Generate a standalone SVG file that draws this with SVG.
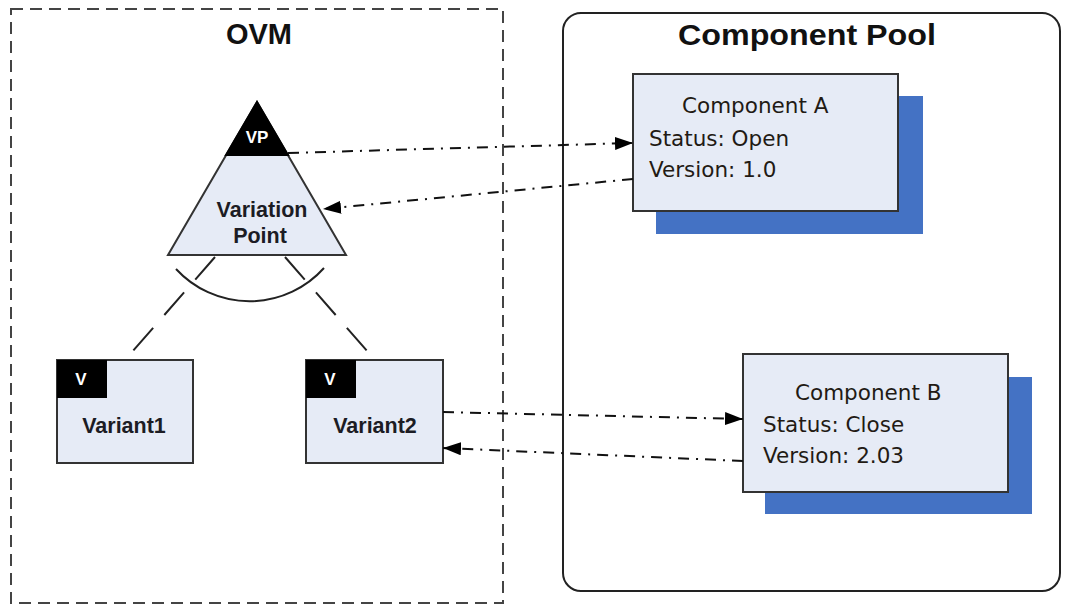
<svg xmlns="http://www.w3.org/2000/svg" width="1067" height="608" viewBox="0 0 1067 608">
  <style>
    .title { font-family: "Liberation Sans", Arial, sans-serif; font-weight: bold; font-size: 29px; fill: #111; text-anchor: middle; }
    .bold { font-family: "Liberation Sans", Arial, sans-serif; font-weight: bold; font-size: 21.5px; fill: #1c1c24; text-anchor: middle; }
    .tag { font-family: "Liberation Sans", Arial, sans-serif; font-weight: bold; font-size: 17px; fill: #fff; text-anchor: middle; }
    .comp { font-family: "DejaVu Sans", Verdana, sans-serif; font-size: 21.5px; fill: #221a14; }
    .box { fill: #e6ebf6; stroke: #333; stroke-width: 2; }
    .shadow { fill: #4472c4; }
    .link { fill: none; stroke: #111; stroke-width: 2; stroke-dasharray: 11 7 2 7; }
    .branch { fill: none; stroke: #222; stroke-width: 2; stroke-dasharray: 30 17; }
  </style>
  <defs>
    <marker id="arrow" markerUnits="userSpaceOnUse" markerWidth="18" markerHeight="13" refX="18" refY="6.5" orient="auto">
      <path d="M0,0 L18,6.5 L0,13 Z" fill="#000"/>
    </marker>
  </defs>

  <rect width="1067" height="608" fill="#fff"/>

  <!-- OVM container -->
  <g id="ovm">
    <rect x="11" y="9" width="492" height="594" fill="none" stroke="#444" stroke-width="2" stroke-dasharray="12 7"/>
    <text class="title" x="259" y="44">OVM</text>
  </g>

  <!-- Component pool container -->
  <g id="component-pool">
    <rect x="563" y="13" width="497" height="578" rx="18" ry="18" fill="none" stroke="#222" stroke-width="2"/>
    <text class="title" x="807" y="45" textLength="258" lengthAdjust="spacingAndGlyphs">Component Pool</text>
  </g>

  <!-- Variation point -->
  <g id="variation-point">
    <polygon points="257,102 346,255 168,255" class="box"/>
    <polygon points="257,102 288,155 226,155" fill="#000" stroke="#000" stroke-width="2"/>
    <text class="tag" x="257" y="143">VP</text>
    <text class="bold" x="262" y="217">Variation</text>
    <text class="bold" x="260" y="243">Point</text>
  </g>

  <!-- Variants -->
  <g id="variant1">
    <rect x="57" y="360" width="136" height="103" class="box"/>
    <rect x="57" y="360" width="50" height="38" fill="#000"/>
    <text class="tag" x="81" y="385">V</text>
    <text class="bold" x="124" y="433">Variant1</text>
  </g>
  <g id="variant2">
    <rect x="306" y="360" width="137" height="103" class="box"/>
    <rect x="306" y="360" width="50" height="38" fill="#000"/>
    <text class="tag" x="330" y="385">V</text>
    <text class="bold" x="375" y="433">Variant2</text>
  </g>

  <!-- Components -->
  <g id="component-a">
    <rect x="656" y="96" width="267" height="138" class="shadow"/>
    <rect x="633" y="74" width="265" height="137" class="box"/>
    <text class="comp" x="682" y="113">Component A</text>
    <text class="comp" x="649" y="146">Status: Open</text>
    <text class="comp" x="649" y="177">Version: 1.0</text>
  </g>
  <g id="component-b">
    <rect x="765" y="377" width="267" height="137" class="shadow"/>
    <rect x="743" y="354" width="265" height="138" class="box"/>
    <text class="comp" x="795" y="400">Component B</text>
    <text class="comp" x="763" y="432">Status: Close</text>
    <text class="comp" x="763" y="463">Version: 2.03</text>
  </g>

  <!-- Connectors -->
  <g id="connectors">
    <!-- alternative group: branches and arc -->
    <line class="branch" x1="215" y1="257" x2="132" y2="352"/>
    <line class="branch" x1="285" y1="257" x2="368" y2="352"/>
    <path d="M176,269 A100,100 0 0 0 324,268" fill="none" stroke="#222" stroke-width="2"/>
    <!-- bindings to the pool -->
    <line class="link" x1="288" y1="153" x2="633" y2="143" marker-end="url(#arrow)"/>
    <line class="link" x1="633" y1="179" x2="323" y2="209" marker-end="url(#arrow)"/>
    <line class="link" x1="443" y1="412" x2="743" y2="419" marker-end="url(#arrow)"/>
    <line class="link" x1="743" y1="461" x2="443" y2="448" marker-end="url(#arrow)"/>
  </g>
</svg>
